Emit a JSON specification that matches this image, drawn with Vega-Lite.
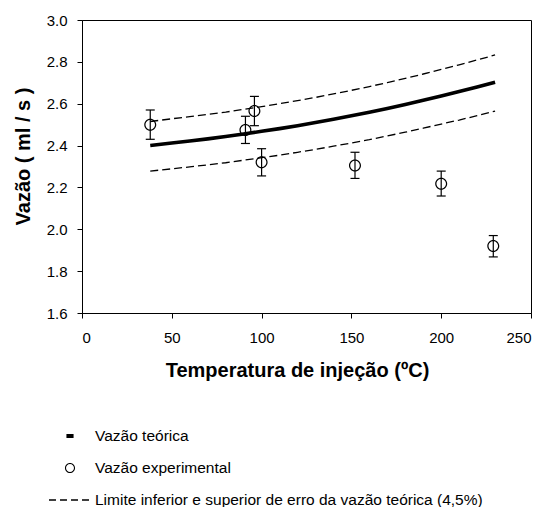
{
  "$schema": "https://vega.github.io/schema/vega-lite/v6.json",
  "autosize": "none",
  "width": 449,
  "height": 293,
  "padding": {"left": 82, "top": 20, "right": 17, "bottom": 194},
  "background": "white",
  "config": {
    "font": "Liberation Sans",
    "view": {"stroke": "black", "strokeWidth": 1},
    "axis": {
      "grid": false,
      "domainColor": "black",
      "domainWidth": 1,
      "tickColor": "black",
      "tickSize": 5,
      "labelColor": "black",
      "labelFont": "Liberation Sans",
      "labelFontSize": 15,
      "titleColor": "black",
      "titleFont": "Liberation Sans",
      "titleFontSize": 20,
      "titleFontWeight": "bold"
    }
  },
  "datasets": {
    "theory": [
      {"t": 38, "v": 2.400, "up": 2.515, "lo": 2.278},
      {"t": 50, "v": 2.412, "up": 2.528, "lo": 2.289},
      {"t": 60, "v": 2.422, "up": 2.538, "lo": 2.298},
      {"t": 70, "v": 2.432, "up": 2.549, "lo": 2.308},
      {"t": 80, "v": 2.443, "up": 2.560, "lo": 2.318},
      {"t": 90, "v": 2.455, "up": 2.573, "lo": 2.330},
      {"t": 100, "v": 2.468, "up": 2.586, "lo": 2.342},
      {"t": 110, "v": 2.481, "up": 2.600, "lo": 2.354},
      {"t": 120, "v": 2.495, "up": 2.615, "lo": 2.368},
      {"t": 130, "v": 2.510, "up": 2.630, "lo": 2.382},
      {"t": 140, "v": 2.526, "up": 2.647, "lo": 2.397},
      {"t": 150, "v": 2.542, "up": 2.664, "lo": 2.412},
      {"t": 160, "v": 2.559, "up": 2.682, "lo": 2.428},
      {"t": 170, "v": 2.577, "up": 2.701, "lo": 2.446},
      {"t": 180, "v": 2.596, "up": 2.721, "lo": 2.464},
      {"t": 190, "v": 2.616, "up": 2.742, "lo": 2.483},
      {"t": 200, "v": 2.637, "up": 2.764, "lo": 2.503},
      {"t": 210, "v": 2.658, "up": 2.786, "lo": 2.522},
      {"t": 220, "v": 2.680, "up": 2.809, "lo": 2.543},
      {"t": 230, "v": 2.703, "up": 2.833, "lo": 2.565}
    ],
    "exp": [
      {"t": 38, "v": 2.500, "lo": 2.430, "hi": 2.570, "serie": "Vazão experimental"},
      {"t": 91, "v": 2.475, "lo": 2.410, "hi": 2.540, "serie": "Vazão experimental"},
      {"t": 96, "v": 2.565, "lo": 2.495, "hi": 2.635, "serie": "Vazão experimental"},
      {"t": 100, "v": 2.320, "lo": 2.255, "hi": 2.385, "serie": "Vazão experimental"},
      {"t": 152, "v": 2.305, "lo": 2.243, "hi": 2.368, "serie": "Vazão experimental"},
      {"t": 200, "v": 2.218, "lo": 2.159, "hi": 2.278, "serie": "Vazão experimental"},
      {"t": 229, "v": 1.920, "lo": 1.868, "hi": 1.970, "serie": "Vazão experimental"}
    ]
  },
  "encoding": {
    "x": {
      "type": "quantitative",
      "scale": {"domain": [0, 250], "nice": false, "zero": false},
      "axis": {
        "values": [0, 50, 100, 150, 200, 250],
        "labelPadding": 12,
        "title": "Temperatura de injeção (ºC)",
        "titleX": 215,
        "titleY": 63,
        "titleAlign": "center",
        "titleBaseline": "alphabetic"
      }
    },
    "y": {
      "type": "quantitative",
      "scale": {"domain": [1.6, 3.0], "nice": false, "zero": false},
      "axis": {
        "values": [1.6, 1.8, 2.0, 2.2, 2.4, 2.6, 2.8, 3.0],
        "format": ".1f",
        "labelPadding": 10,
        "title": "Vazão ( ml / s )",
        "titleX": -52.5,
        "titleY": 136,
        "titleAlign": "center",
        "titleBaseline": "alphabetic"
      }
    }
  },
  "layer": [
    {
      "data": {"name": "theory"},
      "mark": {"type": "line", "color": "black", "strokeWidth": 1.3, "strokeDash": [8, 4]},
      "encoding": {"x": {"field": "t"}, "y": {"field": "up"}}
    },
    {
      "data": {"name": "theory"},
      "mark": {"type": "line", "color": "black", "strokeWidth": 1.3, "strokeDash": [8, 4]},
      "encoding": {"x": {"field": "t"}, "y": {"field": "lo"}}
    },
    {
      "data": {"name": "theory"},
      "mark": {"type": "line", "color": "black", "strokeWidth": 3.6},
      "encoding": {"x": {"field": "t"}, "y": {"field": "v"}}
    },
    {
      "data": {"name": "exp"},
      "mark": {"type": "rule", "color": "black", "strokeWidth": 1.2},
      "encoding": {"x": {"field": "t"}, "y": {"field": "lo"}, "y2": {"field": "hi"}}
    },
    {
      "data": {"name": "exp"},
      "mark": {"type": "tick", "orient": "horizontal", "color": "black", "size": 9, "thickness": 1.2, "opacity": 1},
      "encoding": {"x": {"field": "t"}, "y": {"field": "lo"}}
    },
    {
      "data": {"name": "exp"},
      "mark": {"type": "tick", "orient": "horizontal", "color": "black", "size": 9, "thickness": 1.2, "opacity": 1},
      "encoding": {"x": {"field": "t"}, "y": {"field": "hi"}}
    },
    {
      "data": {"name": "exp"},
      "mark": {"type": "point", "filled": true, "color": "black", "opacity": 1, "size": 2500, "strokeWidth": 0},
      "encoding": {
        "x": {"field": "t"},
        "y": {"field": "v"},
        "shape": {
          "field": "serie",
          "type": "nominal",
          "scale": {
            "domain": ["Vazão teórica", "Vazão experimental", "Limite inferior e superior de erro da vazão teórica (4,5%)"],
            "range": [
              "M-0.17,-0.095H0.17V0.095H-0.17Z",
              "M-0.24,0A0.24,0.24,0,1,1,0.24,0A0.24,0.24,0,1,1,-0.24,0ZM-0.19,0A0.19,0.19,0,1,0,0.19,0A0.19,0.19,0,1,0,-0.19,0Z",
              "M-1,-0.03H-0.667V0.03H-1ZM-0.476,-0.03H-0.143V0.03H-0.476ZM0.048,-0.03H0.381V0.03H0.048ZM0.571,-0.03H0.905V0.03H0.571Z"
            ]
          },
          "legend": {
            "orient": "none",
            "legendX": -33,
            "legendY": 395,
            "title": null,
            "padding": 0,
            "symbolSize": 1764,
            "symbolFillColor": "black",
            "symbolStrokeWidth": 0,
            "symbolOpacity": 1,
            "labelFont": "Liberation Sans",
            "labelFontSize": 15.5,
            "labelColor": "black",
            "labelOffset": 4,
            "labelLimit": 0,
            "rowPadding": 2
          }
        }
      }
    }
  ]
}
